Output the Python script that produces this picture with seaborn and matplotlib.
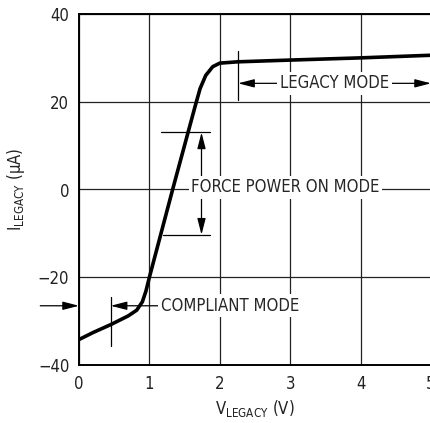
import numpy as np
import pandas as pd
import matplotlib
matplotlib.use("Agg")
import matplotlib.pyplot as plt
import seaborn as sns

# curva I_LEGACY frente a V_LEGACY
v_legacy = [0.0, 0.2, 0.45, 0.7, 0.82, 0.9, 0.95, 1.0, 1.33, 1.65, 1.72, 1.8,
            1.9, 2.0, 2.25, 3.0, 4.0, 5.0]
i_legacy = [-34.2, -32.6, -30.8, -28.8, -27.5, -25.6, -23.2, -20.0, 0.0, 19.0,
            23.0, 26.0, 28.0, 28.8, 29.1, 29.5, 30.0, 30.6]
x_ticks = [0, 1, 2, 3, 4, 5]
y_ticks = [-40, -20, 0, 20, 40]
y_ticklabels = ["\u221240", "\u221220", "0", "20", "40"]

sns.set_style("white")
plt.rcParams['font.family'] = ['DejaVu Sans']
plt.rcParams['font.stretch'] = 'condensed'
plt.rcParams['mathtext.fontset'] = 'custom'
plt.rcParams['mathtext.rm'] = 'DejaVu Sans:stretch=condensed'
plt.rcParams['mathtext.it'] = 'DejaVu Sans:stretch=condensed'

fig = plt.figure(figsize=(4.3, 4.23), dpi=100)
ax = fig.add_axes([79 / 430, 58 / 423, 352 / 430, 351 / 423])

df = pd.DataFrame({'v': v_legacy, 'i': i_legacy})
sns.lineplot(data=df, x='v', y='i', ax=ax, color='black', linewidth=2.6, zorder=5)

ax.set_xlim(0, 5)
ax.set_ylim(-40, 40)
ax.set_xticks(x_ticks)
ax.set_yticks(y_ticks)
ax.set_yticklabels(y_ticklabels)
ax.tick_params(length=0, labelsize=12, pad=7, colors='#222222')
ax.grid(True, color='#222222', linewidth=0.9)
for s in ['left', 'bottom', 'top']:
    ax.spines[s].set_color('black')
    ax.spines[s].set_linewidth(1.4)
ax.spines['right'].set_visible(False)

ax.set_xlabel(r"V$_{\mathrm{LEGACY}}$ (V)", fontsize=12, color='#222222')
ax.set_ylabel(r"I$_{\mathrm{LEGACY}}$ ($\mu$A)", fontsize=12, color='#222222', labelpad=8)

fs = 12
arrow = dict(arrowstyle='-|>,head_length=0.7,head_width=0.18', color='black',
             lw=0.9, mutation_scale=14, shrinkA=0, shrinkB=0)
bbox = dict(boxstyle='square,pad=0.15', fc='white', ec='none')

# LEGACY MODE
ax.plot([2.26, 2.26], [20.3, 31.5], color='black', lw=0.9, zorder=6)
ax.annotate('', xy=(2.26, 24.2), xytext=(3.0, 24.2), arrowprops=arrow, zorder=6)
ax.annotate('', xy=(5.0, 24.2), xytext=(4.3, 24.2), arrowprops=arrow, zorder=6,
            annotation_clip=False)
ax.text(3.63, 24.2, 'LEGACY MODE', fontsize=fs, ha='center', va='center',
        bbox=bbox, zorder=7)

# FORCE POWER ON MODE
ax.plot([1.17, 1.86], [13.0, 13.0], color='black', lw=0.9, zorder=6)
ax.plot([1.2, 1.86], [-10.3, -10.3], color='black', lw=0.9, zorder=6)
ax.annotate('', xy=(1.74, 13.0), xytext=(1.74, 0.0), arrowprops=arrow, zorder=6)
ax.annotate('', xy=(1.74, -10.3), xytext=(1.74, 0.0), arrowprops=arrow, zorder=6)
ax.text(2.93, 0.5, 'FORCE POWER ON MODE', fontsize=fs, ha='center', va='center',
        bbox=bbox, zorder=7)

# COMPLIANT MODE
ax.plot([0.45, 0.45], [-35.6, -24.6], color='black', lw=0.9, zorder=6)
ax.annotate('', xy=(0.45, -26.5), xytext=(1.12, -26.5), arrowprops=arrow, zorder=6)
ax.annotate('', xy=(0.0, -26.5), xytext=(-0.55, -26.5), arrowprops=arrow, zorder=6,
            annotation_clip=False)
ax.text(1.16, -26.5, 'COMPLIANT MODE', fontsize=fs, ha='left', va='center',
        bbox=bbox, zorder=7)

fig.savefig('out.png', dpi=100)
